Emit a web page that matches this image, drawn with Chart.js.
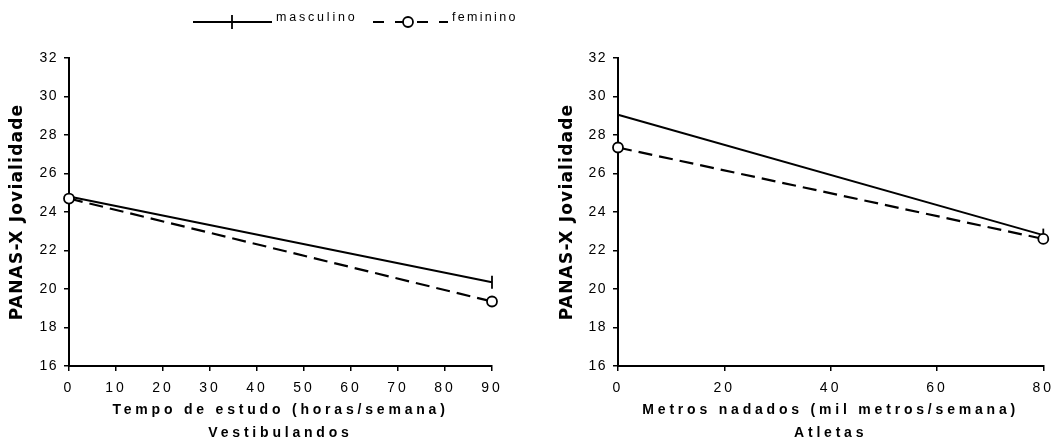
<!DOCTYPE html>
<html>
<head>
<meta charset="utf-8">
<title>PANAS-X Jovialidade</title>
<script src="https://cdn.jsdelivr.net/npm/chart.js@4"></script>
<style>
  html, body { margin: 0; padding: 0; background: #fff; }
  #wrap { position: relative; width: 1061px; height: 445px; overflow: hidden; }
  #chart-vest { position: absolute; left: 0; top: 0; }
  #chart-atl { position: absolute; left: 530px; top: 0; }
  #legend { position: absolute; left: 0; top: 0; }
</style>
</head>
<body>
<div id="wrap">
  <canvas id="chart-vest" width="530" height="445"></canvas>
  <canvas id="chart-atl" width="531" height="445"></canvas>
  <svg id="legend" width="530" height="40" font-family="Liberation Sans, Arial, sans-serif" font-size="12.5">
    <line x1="193" y1="22" x2="272" y2="22" stroke="#000" stroke-width="2"/>
    <line x1="232" y1="15" x2="232" y2="29" stroke="#000" stroke-width="1.8"/>
    <text x="276" y="21" letter-spacing="2.8" fill="#000">masculino</text>
    <line x1="373" y1="22" x2="448" y2="22" stroke="#000" stroke-width="2.2" stroke-dasharray="11 11"/>
    <circle cx="408" cy="22" r="5" fill="#fff" stroke="#000" stroke-width="1.8"/>
    <text x="452" y="21" letter-spacing="2.3" fill="#000">feminino</text>
  </svg>
</div>
<script>
// Vestibulandos: tempo de estudo (horas/semana)
const vestHoras = [0, 90];
const vestMasculino = [24.8, 20.35];
const vestFeminino = [24.7, 19.35];

// Atletas: metros nadados (mil metros/semana)
const atlMetros = [0, 80];
const atlMasculino = [29.05, 22.8];
const atlFeminino = [27.35, 22.6];

const yTitle = 'PANAS-X Jovialidade';
const vestXTitle = ['Tempo de estudo (horas/semana)', 'Vestibulandos'];
const atlXTitle = ['Metros nadados (mil metros/semana)', 'Atletas'];

const FONT = 'Liberation Sans, Arial, sans-serif';

// canvas text has no letter-spacing option in Chart.js, so set it around the scale drawing
function withSpacing(scale, name, spacing) {
  const orig = scale[name];
  scale[name] = function (...args) {
    const ctx = this.ctx;
    ctx.save();
    ctx.letterSpacing = spacing;
    orig.apply(this, args);
    ctx.restore();
  };
}

const spacingPlugin = {
  id: 'spacing',
  beforeDraw(chart, args, opts) {
    Object.values(chart.scales).forEach(scale => {
      if (scale._spaced) return;
      scale._spaced = true;
      withSpacing(scale, 'drawLabels', opts[scale.axis + 'Ticks']);
      withSpacing(scale, 'drawTitle', opts[scale.axis + 'Title']);
    });
  }
};

function points(xs, ys) {
  return xs.map((x, i) => ({ x: x, y: ys[i] }));
}

function makeChart(id, xs, masc, fem, xMax, xStep, xTitle, pad, yWidth) {
  const ctx = document.getElementById(id).getContext('2d');
  return new Chart(ctx, {
    type: 'line',
    data: {
      datasets: [{
        label: 'masculino',
        data: points(xs, masc),
        borderColor: '#000',
        borderWidth: 2,
        pointStyle: 'line',
        rotation: 90,
        pointRadius: 6.5,
        pointBorderWidth: 1.8,
        pointBorderColor: '#000',
        fill: false,
        clip: false,
        order: 1
      }, {
        label: 'feminino',
        data: points(xs, fem),
        borderColor: '#000',
        borderWidth: 2.2,
        borderDash: [14, 7],
        pointStyle: 'circle',
        pointRadius: 5,
        pointBorderWidth: 1.8,
        pointBorderColor: '#000',
        pointBackgroundColor: '#fff',
        fill: false,
        clip: false,
        order: 0
      }]
    },
    options: {
      responsive: false,
      animation: false,
      layout: { padding: pad },
      plugins: {
        legend: { display: false },
        tooltip: { enabled: false },
        spacing: { xTicks: '3px', yTicks: '1.5px', xTitle: '3.8px', yTitle: '1.2px' }
      },
      scales: {
        x: {
          type: 'linear',
          min: 0,
          max: xMax,
          afterFit: scale => { scale.height = 79; },
          ticks: {
            stepSize: xStep,
            color: '#000',
            padding: 9,
            maxRotation: 0,
            font: { family: FONT, size: 14 }
          },
          grid: {
            display: true,
            drawOnChartArea: false,
            drawTicks: true,
            tickLength: 5,
            color: '#000',
            lineWidth: 1.5
          },
          border: { display: true, color: '#000', width: 2 },
          title: {
            display: true,
            text: xTitle,
            color: '#000',
            padding: { top: 0, bottom: 0 },
            font: { family: FONT, size: 14, weight: 'bold', lineHeight: 1.67 }
          }
        },
        y: {
          min: 16,
          max: 32,
          afterFit: scale => { scale.width = yWidth; },
          ticks: {
            stepSize: 2,
            color: '#000',
            padding: 6,
            font: { family: FONT, size: 14 }
          },
          grid: {
            display: true,
            drawOnChartArea: false,
            drawTicks: true,
            tickLength: 5,
            color: '#000',
            lineWidth: 1.5
          },
          border: { display: true, color: '#000', width: 2 },
          title: {
            display: true,
            text: yTitle,
            color: '#000',
            padding: { top: 7.8, bottom: 0 },
            font: { family: 'DejaVu Sans', size: 17, weight: 'bold' }
          }
        }
      }
    },
    plugins: [spacingPlugin]
  });
}

makeChart('chart-vest', vestHoras, vestMasculino, vestFeminino, 90, 10, vestXTitle,
  { top: 58, left: 0, right: 38, bottom: 0 }, 69);
makeChart('chart-atl', atlMetros, atlMasculino, atlFeminino, 80, 20, atlXTitle,
  { top: 58, left: 20, right: 17.7, bottom: 0 }, 68);
</script>
</body>
</html>
